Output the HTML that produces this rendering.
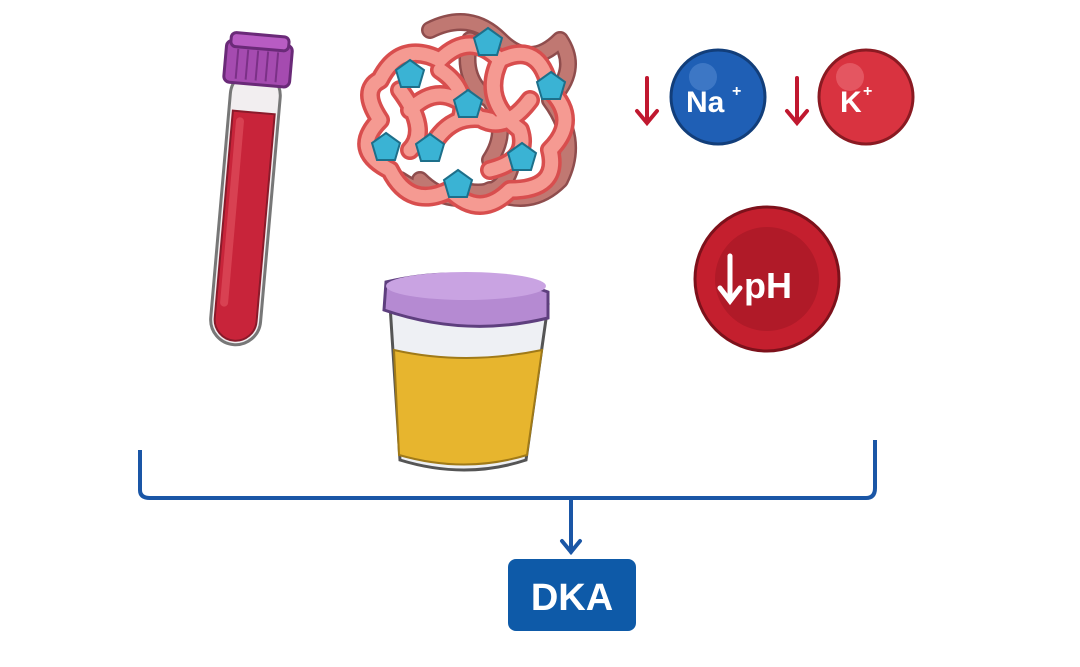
<!DOCTYPE html>
<html><head><meta charset="utf-8"><style>
html,body{margin:0;padding:0;background:#fff;width:1080px;height:667px;overflow:hidden}
svg{display:block}
text{font-family:"Liberation Sans",sans-serif;font-weight:bold}
</style></head><body>
<svg width="1080" height="667" viewBox="0 0 1080 667">
<!-- test tube -->
<g transform="rotate(5 245 190)">
  <rect x="222" y="70" width="50" height="275" rx="25" fill="#f2eef0" stroke="#777" stroke-width="3"/>
  <path d="M226 112 L268 112 L268 320 A21 21 0 0 1 226 320 Z" fill="#c8243a" stroke="#8a1a2a" stroke-width="2"/>
  <rect x="230" y="118" width="8" height="190" rx="4" fill="#e25563" opacity=".6"/>
  <rect x="214" y="42" width="66" height="42" rx="6" fill="#a54bb0" stroke="#6a2a78" stroke-width="3"/>
  <rect x="218" y="34" width="58" height="14" rx="5" fill="#b85cc3" stroke="#6a2a78" stroke-width="3"/>
  <g stroke="#7b3187" stroke-width="2"><line x1="226" y1="50" x2="226" y2="80"/><line x1="236" y1="50" x2="236" y2="80"/><line x1="246" y1="50" x2="246" y2="80"/><line x1="256" y1="50" x2="256" y2="80"/><line x1="266" y1="50" x2="266" y2="80"/></g>
</g>
<!-- glycogen -->
<g fill="none" stroke-linecap="round" stroke-linejoin="round">
  <g stroke="#8f4d4d" stroke-width="18">
    <path d="M430 30 q40 -20 70 10 q30 30 60 0 q20 30 -10 60 q30 40 10 80 q-30 30 -70 10 q-40 20 -70 -10"/>
    <path d="M400 180 q30 20 60 10 q40 10 50 -20 M470 40 q-10 40 20 60 q20 30 0 60"/>
  </g>
  <g stroke="#c07872" stroke-width="13">
    <path d="M430 30 q40 -20 70 10 q30 30 60 0 q20 30 -10 60 q30 40 10 80 q-30 30 -70 10 q-40 20 -70 -10"/>
    <path d="M400 180 q30 20 60 10 q40 10 50 -20 M470 40 q-10 40 20 60 q20 30 0 60"/>
  </g>
  <g stroke="#d84e4e" stroke-width="20">
    <path d="M380 80 q20 -40 60 -20 q30 -30 60 0 q40 -20 50 30 q30 30 0 60 q10 40 -40 40 q-30 30 -60 0 q-40 20 -60 -20 q-40 -20 -10 -50 q-20 -30 0 -40 z"/>
    <path d="M410 110 q30 -30 60 0 q30 30 60 -10 M430 150 q20 -40 60 -30 M400 90 q30 40 10 60 M500 60 q-20 40 20 70 q10 30 -30 40 M440 70 q30 20 20 50"/>
  </g>
  <g stroke="#f59a92" stroke-width="13">
    <path d="M380 80 q20 -40 60 -20 q30 -30 60 0 q40 -20 50 30 q30 30 0 60 q10 40 -40 40 q-30 30 -60 0 q-40 20 -60 -20 q-40 -20 -10 -50 q-20 -30 0 -40 z"/>
    <path d="M410 110 q30 -30 60 0 q30 30 60 -10 M430 150 q20 -40 60 -30 M400 90 q30 40 10 60 M500 60 q-20 40 20 70 q10 30 -30 40 M440 70 q30 20 20 50"/>
  </g>
</g>
<g fill="#3ab3d4" stroke="#1d6f8a" stroke-width="2">
  <polygon points="488,28 502,38 497,55 479,55 474,38"/>
  <polygon points="410,60 424,70 419,87 401,87 396,70"/>
  <polygon points="551,72 565,82 560,99 542,99 537,82"/>
  <polygon points="468,90 482,100 477,117 459,117 454,100"/>
  <polygon points="386,133 400,143 395,160 377,160 372,143"/>
  <polygon points="430,134 444,144 439,161 421,161 416,144"/>
  <polygon points="522,143 536,153 531,170 513,170 508,153"/>
  <polygon points="458,170 472,180 467,197 449,197 444,180"/>
</g>
<!-- Na, K -->
<g stroke="#c0182f" stroke-width="4" fill="none" stroke-linecap="round">
  <path d="M647 78 V122 M637 111 L647 123 L657 111"/>
  <path d="M797 78 V122 M787 111 L797 123 L807 111"/>
</g>
<circle cx="718" cy="97" r="47" fill="#1f5fb5" stroke="#123e7a" stroke-width="3"/>
<circle cx="703" cy="77" r="14" fill="#5b90d6" opacity=".5"/>
<text x="686" y="112" font-size="30" fill="#fff">Na</text><text x="732" y="96" font-size="16" fill="#fff">+</text>
<circle cx="866" cy="97" r="47" fill="#d93340" stroke="#8a1a22" stroke-width="3"/>
<circle cx="850" cy="77" r="14" fill="#f07a82" opacity=".5"/>
<text x="840" y="112" font-size="30" fill="#fff">K</text><text x="863" y="96" font-size="16" fill="#fff">+</text>
<!-- pH -->
<circle cx="767" cy="279" r="72" fill="#c41f2e" stroke="#7d111b" stroke-width="3"/>
<circle cx="767" cy="279" r="52" fill="#b01a28"/>
<g stroke="#fff" stroke-width="5" fill="none" stroke-linecap="round"><path d="M730 256 V300 M720 288 L730 301 L740 288"/></g>
<text x="744" y="298" font-size="36" fill="#fff">pH</text>
<!-- cup -->
<path d="M390 305 L548 305 L526 460 Q465 480 400 460 Z" fill="#eef0f4" stroke="#555" stroke-width="3"/>
<path d="M394 350 Q465 366 542 350 L527 455 Q465 474 399 455 Z" fill="#e7b52e" stroke="#a07a18" stroke-width="2"/>
<path d="M386 282 Q470 262 548 292 L548 318 Q466 338 384 310 Z" fill="#b58ad2" stroke="#5e3f7e" stroke-width="3"/>
<ellipse cx="466" cy="286" rx="80" ry="14" fill="#c9a3e2"/>
<!-- bracket -->
<path d="M140 450 V490 Q140 498 150 498 H866 Q875 498 875 488 V440" fill="none" stroke="#1a56a6" stroke-width="4"/>
<path d="M571 498 V552 M562 541 L571 552 L580 541" fill="none" stroke="#1a56a6" stroke-width="4" stroke-linecap="round"/>
<rect x="508" y="559" width="128" height="72" rx="8" fill="#0e5aa8"/>
<text x="572" y="610" font-size="38" fill="#fff" text-anchor="middle">DKA</text>
</svg>
</body></html>
